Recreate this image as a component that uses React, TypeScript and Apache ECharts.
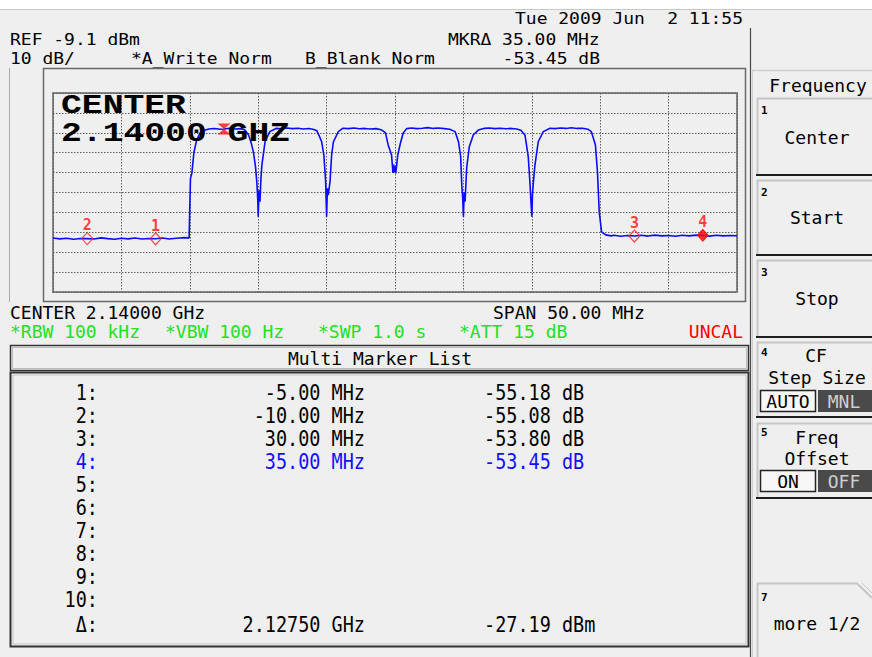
import React, { useEffect, useRef } from "react";
import * as echarts from "echarts";

// ---------- instrument settings ----------
const REF_LEVEL_DBM = -9.1;
const DB_PER_DIV = 10;
const CENTER_MHZ = 2140;
const SPAN_MHZ = 50;
const DATE_LEFT = "Tue 2009 Jun";
const DATE_RIGHT = "2 11:55";
const TRACE_LABELS = ["*A_Write Norm", "B_Blank Norm"];
const SETTINGS = ["*RBW 100 kHz", "*VBW 100 Hz", "*SWP 1.0 s", "*ATT 15 dB"];

// ---------- trace ----------
const TRACE_FREQ_MHZ = [
  2115.0, 2115.5, 2116.0, 2116.5, 2117.0, 2117.5, 2118.0, 2118.5, 2119.0, 2119.5,
  2120.0, 2120.5, 2121.0, 2121.5, 2122.0, 2122.5, 2123.0, 2123.5, 2124.0, 2124.5, 2124.95,
  2125.0, 2125.05, 2125.15, 2125.3, 2125.5, 2125.75, 2126.0, 2126.4,
  2126.8, 2127.2, 2127.5, 2127.9, 2128.3, 2128.7, 2129.0,
  2129.3, 2129.5, 2129.65, 2129.8, 2129.9, 2129.97, 2130.0, 2130.06, 2130.13, 2130.2, 2130.27, 2130.5, 2130.85, 2131.3,
  2131.7, 2132.1, 2132.5, 2132.9, 2133.3, 2133.7, 2134.0,
  2134.27, 2134.45, 2134.64, 2134.8, 2134.93, 2135.0, 2135.06, 2135.12, 2135.25, 2135.37, 2135.5, 2135.86, 2136.2,
  2136.6, 2137.0, 2137.4, 2137.8, 2138.2, 2138.6, 2139.0,
  2139.3, 2139.5, 2139.75, 2139.85, 2139.9, 2139.95, 2140.0, 2140.05, 2140.1, 2140.2, 2140.4, 2140.6, 2140.85,
  2141.2, 2141.6, 2142.0, 2142.4, 2142.8, 2143.2, 2143.6, 2144.0,
  2144.39, 2144.64, 2144.8, 2144.88, 2144.95, 2145.0, 2145.06, 2145.12, 2145.24, 2145.43, 2145.72, 2146.09, 2146.5,
  2146.9, 2147.3, 2147.7, 2148.1, 2148.5, 2148.9, 2149.2,
  2149.5, 2149.74, 2149.86, 2150.0, 2150.05, 2150.1, 2150.23, 2150.47, 2150.84, 2151.33,
  2151.7, 2152.1, 2152.5, 2152.9, 2153.3, 2153.7, 2154.1,
  2154.35, 2154.65, 2154.8, 2154.93, 2155.1, 2155.4, 2155.8,
  2156.0, 2156.5, 2157.0, 2157.5, 2158.0, 2158.5, 2159.0, 2159.5, 2160.0, 2160.5,
  2161.0, 2161.5, 2162.0, 2162.5, 2163.0, 2163.5, 2164.0, 2164.5, 2165.0,
];
const TRACE_LEVEL_DBM = [
  -82.0, -82.4, -82.1, -82.6, -82.2, -82.27, -82.5, -81.9, -82.3, -82.6,
  -82.1, -82.4, -82.0, -82.5, -82.2, -82.37, -82.0, -82.5, -82.1, -81.8, -81.9,
  -66.0, -52.0, -49.5, -39.0, -32.8, -29.2, -27.9, -27.2,
  -26.9, -27.3, -27.19, -26.8, -27.2, -27.0, -27.6,
  -30.2, -34.5, -38.8, -46.0, -54.0, -63.0, -71.3, -58.0, -63.7, -52.0, -45.3, -33.6, -28.5, -26.9,
  -27.1, -26.7, -27.0, -26.8, -27.2, -26.9, -27.3,
  -27.9, -30.5, -33.6, -40.3, -53.7, -71.3, -57.0, -60.4, -53.7, -40.0, -33.6, -28.5, -26.8,
  -27.0, -26.7, -27.1, -26.9, -27.2, -27.0, -27.6,
  -29.0, -35.2, -40.3, -49.3, -45.0, -49.0, -46.0, -49.5, -46.8, -40.3, -34.2, -29.2, -27.0,
  -26.7, -27.0, -26.8, -26.5, -26.9, -26.7, -27.0, -27.3,
  -28.5, -33.6, -41.1, -55.3, -62.0, -71.3, -59.0, -63.7, -46.8, -36.1, -30.2, -27.7, -26.9,
  -26.7, -27.0, -26.8, -27.1, -26.9, -27.2, -27.8,
  -30.2, -41.1, -53.7, -71.3, -60.0, -55.3, -45.3, -33.6, -28.5, -26.8,
  -27.0, -26.7, -26.9, -26.6, -26.9, -26.8, -27.3,
  -28.5, -35.2, -48.8, -68.9, -78.9, -80.4, -80.9,
  -80.6, -81.1, -80.7, -80.99, -80.6, -81.0, -80.5, -80.9, -80.7, -81.1,
  -80.6, -80.9, -80.5, -80.64, -81.0, -80.6, -80.9, -80.7, -80.8,
];

// ---------- markers ----------
const MARKER_IDS = ["1", "2", "3", "4"];
const MARKER_FREQ_MHZ = [2122.5, 2117.5, 2157.5, 2162.5];
const MARKER_LEVEL_DBM = [-82.37, -82.27, -80.99, -80.64];
const ACTIVE_MARKER = 3;
const DELTA_REF_FREQ_MHZ = 2127.5;
const DELTA_REF_LEVEL_DBM = -27.19;
const LIST_LABELS = ["1:", "2:", "3:", "4:", "5:", "6:", "7:", "8:", "9:", "10:", "Δ:"];

const MONO = "'DejaVu Sans Mono', monospace";
const BG = "#efefef";

function txt(x: number, y: number, text: string, o: any = {}) {
  const align = o.align || "left";
  const size = o.size || 18;
  return {
    type: "text",
    x,
    y,
    z: o.z ?? 50,
    scaleX: o.scaleX ?? 1,
    scaleY: o.scaleY ?? 1,
    style: {
      text,
      fill: o.color || "#000",
      fontFamily: o.family || MONO,
      fontSize: size,
      fontWeight: o.weight || "normal",
      lineHeight: o.lh ?? Math.round(size * 0.85),
      align,
      textAlign: align,
      verticalAlign: "middle",
      textVerticalAlign: "middle",
    },
  };
}
function line(x1: number, y1: number, x2: number, y2: number, stroke: string, lw = 1) {
  return { type: "line", z: 40, shape: { x1, y1, x2, y2 }, style: { stroke, lineWidth: lw } };
}
function rect(x: number, y: number, w: number, h: number, style: any, z = 40) {
  return { type: "rect", z, shape: { x, y, width: w, height: h }, style };
}

export default function App() {
  const ref = useRef<HTMLDivElement>(null);
  useEffect(() => {
    if (!ref.current) return;
    document.body.style.margin = "0";
    const chart = echarts.init(ref.current, null, { renderer: "svg" });

    const xMin = CENTER_MHZ - SPAN_MHZ / 2;
    const xMax = CENTER_MHZ + SPAN_MHZ / 2;
    const trace = TRACE_FREQ_MHZ.map((f, i) => [f, TRACE_LEVEL_DBM[i] - REF_LEVEL_DBM]);

    const markerData = MARKER_FREQ_MHZ.map((f, i) => ({
      value: [f, MARKER_LEVEL_DBM[i] - REF_LEVEL_DBM],
      name: MARKER_IDS[i],
      itemStyle:
        i === ACTIVE_MARKER
          ? { color: "#ff0000", borderColor: "#ff0000", borderWidth: 1 }
          : { color: "rgba(0,0,0,0)", borderColor: "#ff2020", borderWidth: 1.2 },
    }));

    const dF = (i: number) => (MARKER_FREQ_MHZ[i] - DELTA_REF_FREQ_MHZ).toFixed(2) + " MHz";
    const dL = (i: number) => (MARKER_LEVEL_DBM[i] - DELTA_REF_LEVEL_DBM).toFixed(2) + " dB";

    const H = { size: 15, scaleX: 1.2 };
    const g: any[] = [];
    // top white band
    g.push(rect(0, 0, 872, 9, { fill: "#ffffff" }, 1));
    g.push(line(0, 9.5, 872, 9.5, "#c8c8c8", 1));
    // header
    g.push(txt(515, 19, DATE_LEFT, H));
    g.push(txt(743, 19, DATE_RIGHT, { ...H, align: "right" }));
    g.push(txt(10, 40, `REF ${REF_LEVEL_DBM} dBm`, H));
    g.push(txt(10, 59, `${DB_PER_DIV} dB/`, H));
    g.push(txt(131, 59, TRACE_LABELS[0], H));
    g.push(txt(305, 59, TRACE_LABELS[1], H));
    g.push(txt(448, 40, `MKRΔ ${dF(ACTIVE_MARKER)}`, H));
    g.push(txt(600, 59, dL(ACTIVE_MARKER), { ...H, align: "right" }));
    // frames
    g.push(line(9.5, 68, 9.5, 302, "#a8a8a8", 1));
    g.push(rect(43.5, 68.5, 702, 233, { fill: "none", stroke: "#6a6a6a", lineWidth: 1.5 }));
    g.push(line(750.5, 28, 750.5, 657, "#4a4a4a", 1.2));
    // big center annotation
    const BIG = { family: "'Liberation Mono', monospace", size: 28, weight: "bold", scaleX: 1.24, z: 100 };
    g.push(txt(61, 105, "CENTER", BIG));
    g.push(txt(61, 133, `${(CENTER_MHZ / 1000).toFixed(5)} GHZ`, BIG));
    // status rows
    g.push(txt(10, 312, `CENTER ${(CENTER_MHZ / 1000).toFixed(5)} GHz`));
    g.push(txt(493, 312, `SPAN ${SPAN_MHZ.toFixed(2)} MHz`));
    const setX = [10, 165, 318, 459];
    SETTINGS.forEach((s, i) => g.push(txt(setX[i], 331, s, { color: "#22e022" })));
    g.push(txt(743, 331, "UNCAL", { color: "#ff0000", align: "right" }));
    // marker list title box
    g.push(rect(10.5, 345.5, 738, 25, { fill: BG, stroke: "#333", lineWidth: 1.5 }));
    g.push(rect(12.5, 347.5, 734, 21, { fill: "none", stroke: "#bdbdbd", lineWidth: 1 }));
    g.push(txt(380, 358, "Multi Marker List", { align: "center" }));
    // list box
    g.push(rect(10.5, 372.5, 738, 274, { fill: BG, stroke: "#333", lineWidth: 2 }));
    g.push(rect(13, 375, 733, 269, { fill: "none", stroke: "#c4c4c4", lineWidth: 1 }));
    const rowY = [393, 416, 439, 462, 485, 508, 531, 554, 577, 600, 625];
    const L = { size: 18.5, scaleY: 1.1 };
    LIST_LABELS.forEach((lab, i) => {
      const color = i === ACTIVE_MARKER ? "#1010ff" : "#000";
      g.push(txt(98, rowY[i], lab, { ...L, align: "right", color }));
      if (i < MARKER_IDS.length) {
        g.push(txt(365, rowY[i], dF(i), { ...L, align: "right", color }));
        g.push(txt(484, rowY[i], dL(i), { ...L, color }));
      }
    });
    g.push(txt(365, rowY[10], `${(DELTA_REF_FREQ_MHZ / 1000).toFixed(5)} GHz`, { ...L, align: "right" }));
    g.push(txt(484, rowY[10], `${DELTA_REF_LEVEL_DBM.toFixed(2)} dBm`, { ...L }));

    // ---- right soft-key panel ----
    g.push(line(752.5, 70, 752.5, 657, "#cfcfcf", 1));
    g.push(line(752, 70.5, 872, 70.5, "#cfcfcf", 1.5));
    g.push(txt(818, 85, "Frequency", { align: "center" }));
    const key = (top: number, bottom: number) => {
      g.push({
        type: "polyline",
        z: 40,
        shape: { points: [[757.5, bottom], [757.5, top + 0.5], [872, top + 0.5]] },
        style: { stroke: "#c6c6c6", lineWidth: 2, fill: "none" },
      });
      g.push(line(756, bottom, 872, bottom, "#1e1e1e", 2));
    };
    key(98, 175);
    g.push(txt(761, 110, "1", { size: 11, weight: "bold" }));
    g.push(txt(817, 137, "Center", { align: "center" }));
    key(180, 255);
    g.push(txt(761, 192, "2", { size: 11, weight: "bold" }));
    g.push(txt(817, 217, "Start", { align: "center" }));
    key(260, 337);
    g.push(txt(761, 272, "3", { size: 11, weight: "bold" }));
    g.push(txt(817, 298, "Stop", { align: "center" }));
    key(342, 417);
    g.push(txt(761, 352, "4", { size: 11, weight: "bold" }));
    g.push(txt(816, 355, "CF", { align: "center" }));
    g.push(txt(817, 377, "Step Size", { align: "center" }));
    g.push(rect(760.5, 390.5, 55, 21, { fill: "#f7f7f7", stroke: "#222", lineWidth: 1.5 }));
    g.push(txt(788, 401, "AUTO", { align: "center" }));
    g.push(rect(818, 390, 54, 22, { fill: "#4a4a4a" }));
    g.push(txt(844, 401, "MNL", { align: "center", color: "#cfcfcf" }));
    key(423, 498);
    g.push(txt(761, 432, "5", { size: 11, weight: "bold" }));
    g.push(txt(817, 437, "Freq", { align: "center" }));
    g.push(txt(817, 458, "Offset", { align: "center" }));
    g.push(rect(760.5, 470.5, 55, 21, { fill: "#f7f7f7", stroke: "#222", lineWidth: 1.5 }));
    g.push(txt(788, 481, "ON", { align: "center" }));
    g.push(rect(818, 470, 54, 22, { fill: "#4a4a4a" }));
    g.push(txt(844, 481, "OFF", { align: "center", color: "#cfcfcf" }));
    g.push({
      type: "polyline",
      z: 40,
      shape: { points: [[757.5, 657], [757.5, 583.5], [857, 583.5], [872, 598]] },
      style: { stroke: "#c6c6c6", lineWidth: 2, fill: "none" },
    });
    g.push(line(862, 583, 872, 593, "#c6c6c6", 1));
    g.push(txt(761, 597, "7", { size: 11, weight: "bold" }));
    g.push(txt(817, 623, "more 1/2", { align: "center" }));

    chart.setOption({
      animation: false,
      backgroundColor: BG,
      grid: {
        left: 53,
        top: 93,
        width: 684,
        height: 199,
        show: true,
        borderColor: "#858585",
        borderWidth: 2,
        backgroundColor: BG,
      },
      xAxis: {
        type: "value",
        min: xMin,
        max: xMax,
        interval: SPAN_MHZ / 10,
        axisLine: { show: false },
        axisTick: { show: false },
        axisLabel: { show: false },
        splitLine: { show: true, lineStyle: { color: "#5e5e5e", width: 1, type: [1.5, 1.5] } },
      },
      yAxis: {
        type: "value",
        min: -10 * DB_PER_DIV,
        max: 0,
        interval: DB_PER_DIV,
        axisLine: { show: false },
        axisTick: { show: false },
        axisLabel: { show: false },
        splitLine: { show: true, lineStyle: { color: "#5e5e5e", width: 1, type: [1.5, 1.5] } },
      },
      series: [
        {
          type: "line",
          data: trace,
          showSymbol: false,
          symbol: "none",
          lineStyle: { color: "#0a0aff", width: 1.6 },
          z: 2,
        },
        {
          type: "scatter",
          data: markerData,
          symbol: "diamond",
          symbolSize: [11, 12],
          z: 3,
          label: {
            show: true,
            position: "top",
            distance: -1,
            formatter: (p: any) => p.name,
            color: "#ff1010",
            fontFamily: MONO,
            fontWeight: "bold",
            fontSize: 15,
          },
        },
        {
          type: "scatter",
          data: [[DELTA_REF_FREQ_MHZ, DELTA_REF_LEVEL_DBM - REF_LEVEL_DBM]],
          symbol: "path://M0,0L10,0L5,5L10,10L0,10L5,5Z",
          symbolSize: [13, 11],
          itemStyle: { color: "#ff1010" },
          z: 4,
        },
      ],
      graphic: g,
    });
    return () => chart.dispose();
  }, []);
  return (
    <div
      ref={ref}
      style={{ position: "absolute", left: 0, top: 0, width: 872, height: 657 }}
    />
  );
}
